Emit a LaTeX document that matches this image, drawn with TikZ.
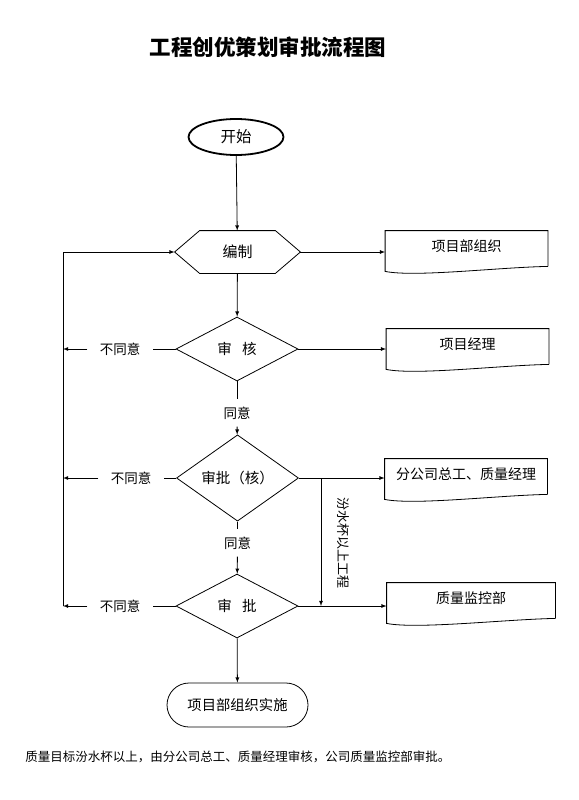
\documentclass[tikz,border=0pt]{standalone}
\usepackage{fontspec}
\setmainfont{Noto Sans CJK SC}
\usetikzlibrary{shapes,arrows}

\begin{document}
\begin{tikzpicture}[>=latex, x=1pt, y=-1pt, line width=0.8pt,
  decision/.style={diamond, draw, minimum width=122pt, minimum height=64pt, inner sep=0pt, font=\fontsize{14.5}{16}\selectfont},
  docbox/.style={minimum width=162pt, minimum height=40pt, text height=0pt, text depth=0pt, font=\fontsize{14}{16}\selectfont},
  nolabel/.style={inner xsep=12pt, font=\fontsize{13.5}{15}\selectfont},
  yeslabel/.style={inner ysep=7pt, font=\fontsize{13.5}{15}\selectfont}]
  \useasboundingbox (0,0) rectangle (578,800);
  \node[font=\fontsize{21.5}{24}\selectfont\bfseries] (title) at (268,47) {工程创优策划审批流程图};
  % main column
  \node[ellipse, draw, line width=1.8pt, minimum width=95pt, minimum height=36pt, font=\fontsize{15.5}{17}\selectfont] (start) at (236,137) {开始};
  \node[minimum width=125pt, minimum height=42pt, font=\fontsize{15}{17}\selectfont] (edit) at (237.5,252) {编制};
  \draw (edit.west) -- ([xshift=25pt]edit.north west) -- ([xshift=-25pt]edit.north east) -- (edit.east) -- ([xshift=-25pt]edit.south east) -- ([xshift=25pt]edit.south west) -- cycle;
  \node[decision] (check) at (237,349) {审\hspace{0.7em}核};
  \node[decision] (approve1) at (237.5,478) {审批（核）};
  \node[decision] (approve2) at (237,606) {审\hspace{0.7em}批};
  \node[draw, rounded corners=22pt, minimum width=141pt, minimum height=44pt, font=\fontsize{14.3}{16}\selectfont] (impl) at (237.5,705) {项目部组织实施};
  % documents on the right
  \node[docbox] (org) at (466.5,251) {项目部组织};
  \node[docbox] (mgr) at (467.5,349) {项目经理};
  \node[docbox] (chief) at (466,479) {分公司总工、质量经理};
  \node[docbox, minimum width=168pt] (qc) at (471,603) {质量监控部};
  \foreach \d in {org,mgr,chief,qc}
    \draw ([yshift=5pt]\d.south east) -- (\d.north east) -- (\d.north west) -- (\d.south west) .. controls +(30pt,-6pt) and +(-50pt,-1pt) .. ([yshift=5pt]\d.south east);
  % labels
  \node[nolabel] (no1) at (120,349) {不同意};
  \node[nolabel] (no2) at (131,478) {不同意};
  \node[nolabel] (no3) at (120,606) {不同意};
  \node[yeslabel] (yes1) at (237,413) {同意};
  \node[yeslabel] (yes2) at (237.5,543) {同意};
  \node[rotate=-90, font=\fontsize{13}{15}\selectfont] (cup) at (343,543) {汾水杯以上工程};
  \node[anchor=west, inner sep=0pt, font=\fontsize{12.5}{14}\selectfont] (note) at (25,757) {质量目标汾水杯以上，由分公司总工、质量经理审核，公司质量监控部审批。};
  % connectors
  \coordinate (loop) at (63,606);
  \coordinate (split) at (321,478);
  \draw[->] (start) -- (edit);
  \draw[->] (edit) -- (check);
  \draw (check) -- (yes1);
  \draw[->] (yes1) -- (approve1);
  \draw (approve1) -- (yes2);
  \draw[->] (yes2) -- (approve2);
  \draw[->] (approve2) -- (impl);
  \draw[->] (edit.east) -- (edit.east -| org.west);
  \draw[->] (check.east) -- (check.east -| mgr.west);
  \draw[->] (approve1.east) -- (approve1.east -| chief.west);
  \draw[->] (approve2.east) -- (approve2.east -| qc.west);
  \draw[->] (split) -- (split |- approve2.east);
  \foreach \a/\n in {check/no1, approve1/no2, approve2/no3} {
    \draw (\a.west) -- (\n.east);
    \draw[->] (\n.west) -- (\n.west -| loop);
  }
  \draw[->] (loop) |- (edit.west);
\end{tikzpicture}
\end{document}
